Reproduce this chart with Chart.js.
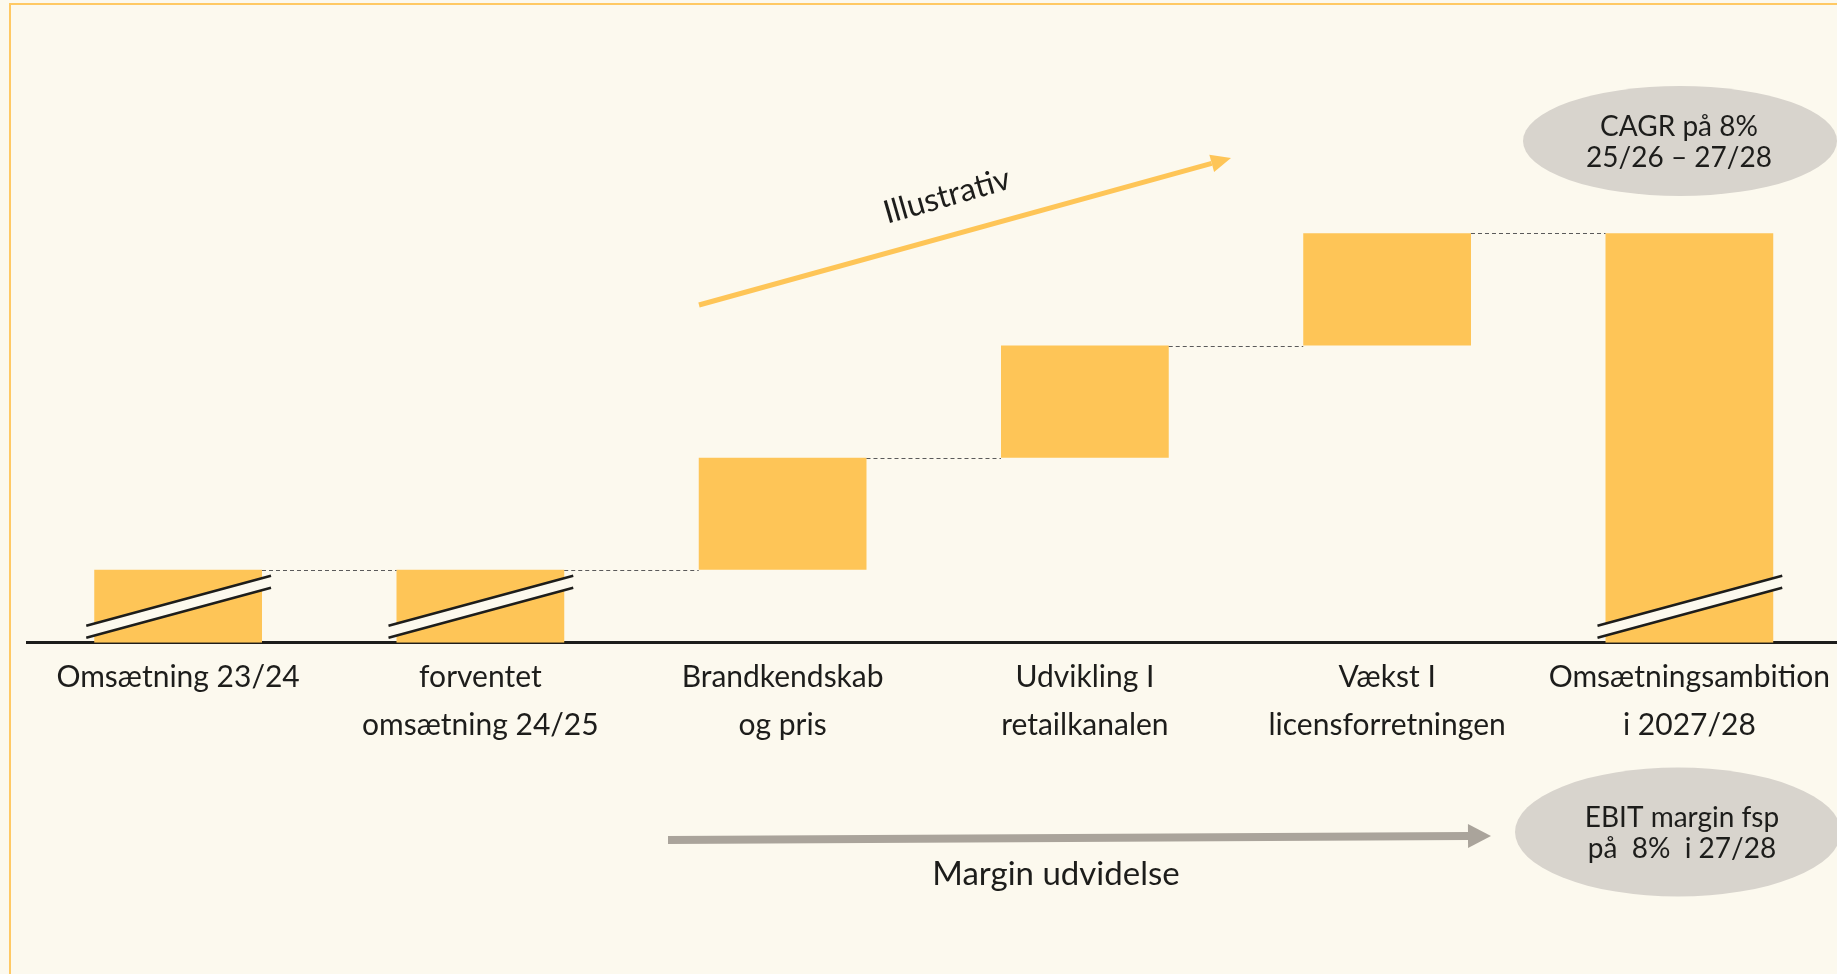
<!DOCTYPE html>
<html>
<head>
<meta charset="utf-8">
<script src="https://cdn.jsdelivr.net/npm/chart.js@4.4.1/dist/chart.umd.min.js"></script>
<style>
  html, body { margin: 0; padding: 0; background: #fcf9ee; overflow: hidden; }
  #wrap { position: relative; width: 1837px; height: 974px; overflow: hidden; }
  #frame { position: absolute; left: 9px; top: 3px; right: -10px; bottom: -10px;
           border-left: 2px solid #ffc964; border-top: 2px solid #ffc964; }
  canvas { position: absolute; left: 0; top: 0; }
</style>
</head>
<body>
<div id="wrap">
  <div id="frame"></div>
  <canvas id="bridge" width="1841" height="974"></canvas>
</div>
<script>
// kategorier og værdier (illustrativ bro)
const categories = [
  ['Omsætning 23/24'],
  ['forventet', 'omsætning 24/25'],
  ['Brandkendskab', 'og pris'],
  ['Udvikling I', 'retailkanalen'],
  ['Vækst I', 'licensforretningen'],
  ['Omsætningsambition', 'i 2027/28']
];
const barStart = [0, 0, 65, 165, 265, 0];
const barEnd = [65, 65, 165, 265, 365, 365];
const brokenBars = [true, true, false, false, false, true];

const bg = '#fcf9ee';
const ink = '#1d1d1b';
const yellow = '#fec557';

function arrow(ctx, x1, y1, x2, y2, w, headLen, headW, color) {
    const a = Math.atan2(y2 - y1, x2 - x1);
    const bx = x2 - headLen * Math.cos(a);
    const by = y2 - headLen * Math.sin(a);
    ctx.save();
    ctx.strokeStyle = color;
    ctx.fillStyle = color;
    ctx.lineWidth = w;
    ctx.beginPath();
    ctx.moveTo(x1, y1);
    ctx.lineTo(bx, by);
    ctx.stroke();
    ctx.beginPath();
    ctx.moveTo(x2, y2);
    ctx.lineTo(bx + headW / 2 * Math.sin(a), by - headW / 2 * Math.cos(a));
    ctx.lineTo(bx - headW / 2 * Math.sin(a), by + headW / 2 * Math.cos(a));
    ctx.closePath();
    ctx.fill();
    ctx.restore();
}

function bubble(ctx, cx, cy, rx, ry, lines, tx, baselines) {
    ctx.save();
    ctx.fillStyle = '#d8d4cd';
    ctx.beginPath();
    ctx.ellipse(cx, cy, rx, ry, 0, 0, Math.PI * 2);
    ctx.fill();
    ctx.fillStyle = ink;
    ctx.font = '28px Lato';
    ctx.textAlign = 'center';
    ctx.textBaseline = 'alphabetic';
    lines.forEach((t, i) => ctx.fillText(t, tx, baselines[i]));
    ctx.restore();
}

const bridgeExtras = {
    id: 'bridgeExtras',
    afterDatasetsDraw(chart) {
        const ctx = chart.ctx;
        const bars = chart.getDatasetMeta(0).data;
        const yScale = chart.scales.y;

        // stiplede forbindelseslinjer
        ctx.save();
        ctx.strokeStyle = '#5a5a5a';
        ctx.lineWidth = 1;
        ctx.setLineDash([4, 3]);
        for (let i = 0; i < bars.length - 1; i++) {
            const y = Math.round(yScale.getPixelForValue(barEnd[i])) + 0.5;
            ctx.beginPath();
            ctx.moveTo(bars[i].x + bars[i].width / 2, y);
            ctx.lineTo(bars[i + 1].x - bars[i + 1].width / 2, y);
            ctx.stroke();
        }
        ctx.restore();

        // brudtegn paa de afkortede soejler
        bars.forEach((bar, i) => {
            if (!brokenBars[i]) return;
            const base = yScale.getPixelForValue(0);
            const l = bar.x - bar.width / 2 - 8;
            const r = bar.x + bar.width / 2 + 9;
            ctx.save();
            ctx.fillStyle = bg;
            ctx.beginPath();
            ctx.moveTo(l, base - 17);
            ctx.lineTo(r, base - 67);
            ctx.lineTo(r, base - 55);
            ctx.lineTo(l, base - 5);
            ctx.closePath();
            ctx.fill();
            ctx.strokeStyle = ink;
            ctx.lineWidth = 2.5;
            ctx.beginPath();
            ctx.moveTo(l, base - 17);
            ctx.lineTo(r, base - 67);
            ctx.moveTo(l, base - 5);
            ctx.lineTo(r, base - 55);
            ctx.stroke();
            ctx.restore();
        });
    },
    afterDraw(chart) {
        const ctx = chart.ctx;

        // gul pil + Illustrativ
        arrow(ctx, 699, 305, 1231, 158, 5, 20, 18, yellow);
        ctx.save();
        ctx.translate(947, 196);
        ctx.rotate(-16 * Math.PI / 180);
        ctx.fillStyle = ink;
        ctx.font = '32px Lato';
        ctx.textAlign = 'center';
        ctx.textBaseline = 'middle';
        ctx.fillText('Illustrativ', 0, 0);
        ctx.restore();

        bubble(ctx, 1680, 141, 157, 55, ['CAGR på 8%', '25/26 – 27/28'], 1679, [136, 167]);
        bubble(ctx, 1678, 832, 163, 64.5, ['EBIT margin fsp', 'på  8%  i 27/28'], 1682, [827, 858]);

        // graa pil + Margin udvidelse
        arrow(ctx, 668, 840, 1491, 836, 8, 23, 24, '#aaa49b');
        ctx.save();
        ctx.fillStyle = ink;
        ctx.font = '33px Lato';
        ctx.textAlign = 'center';
        ctx.fillText('Margin udvidelse', 1056, 885);
        ctx.restore();
    }
};

const ctx = document.getElementById('bridge').getContext('2d');
const bridge = new Chart(ctx, {
    type: 'bar',
    data: {
        labels: categories,
        datasets: [{
            data: barStart.map((s, i) => [s, barEnd[i]]),
            backgroundColor: yellow,
            borderWidth: 0,
            barPercentage: 0.555,
            categoryPercentage: 1
        }]
    },
    options: {
        responsive: false,
        animation: false,
        events: [],
        layout: { padding: { left: 27, right: 0, top: 0, bottom: 214 } },
        plugins: { legend: { display: false }, tooltip: { enabled: false } },
        scales: {
            x: {
                grid: { display: false, drawTicks: false },
                border: { display: true, color: ink, width: 3 },
                ticks: {
                    color: ink,
                    font: { family: 'Lato', size: 30, lineHeight: 1.587 },
                    padding: 11,
                    maxRotation: 0,
                    autoSkip: false
                }
            },
            y: { display: false, min: 0, max: 573 }
        }
    },
    plugins: [bridgeExtras]
});
</script>
</body>
</html>
